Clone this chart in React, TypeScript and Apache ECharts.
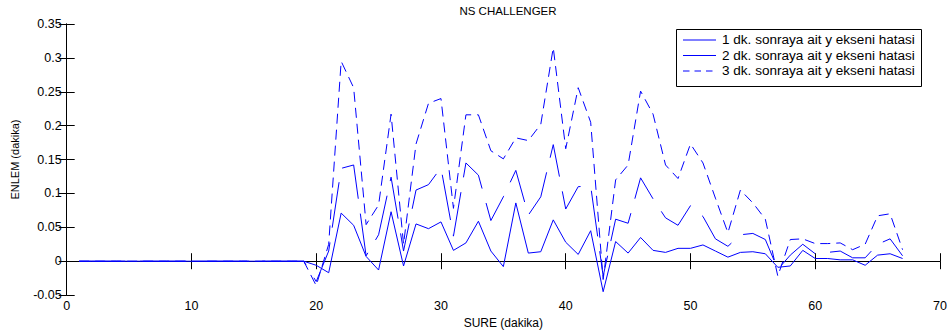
import React, { useEffect, useRef } from "react";
import * as echarts from "echarts";

const minutes: number[] = Array.from({ length: 67 }, (_, i) => i + 1);

const zeros19: number[] = [0, 0, 0, 0, 0, 0, 0, 0, 0, 0, 0, 0, 0, 0, 0, 0, 0, 0, 0];

const err1: number[] = zeros19.concat([
  -0.006, -0.017, 0.071, 0.053, 0.007, -0.013, 0.073, -0.007, 0.055, 0.048,
  0.058, 0.016, 0.027, 0.059, 0.015, -0.008, 0.086, 0.012, 0.014, 0.061,
  0.028, 0.010, 0.045, -0.045, 0.029, 0.012, 0.035, 0.016, 0.013, 0.019,
  0.019, 0.024, 0.015, 0.006, 0.013, 0.014, 0.011, -0.009, -0.007, 0.016,
  0.004, 0.004, 0.002, 0.002, -0.006, 0.009, 0.011, 0.004,
]);

const err2: number[] = zeros19.concat([
  -0.030, 0.015, 0.137, 0.142, 0.008, 0.039, 0.124, 0.015, 0.105, 0.113,
  0.138, 0.037, 0.145, 0.127, 0.060, 0.095, 0.134, 0.068, 0.095, 0.172,
  0.077, 0.110, 0.111, -0.022, 0.062, 0.056, 0.123, 0.092, 0.064, 0.053,
  0.082, 0.066, 0.033, 0.022, 0.039, 0.041, 0.032, -0.012, 0.009, 0.025,
  0.011, 0.013, 0.015, 0.005, 0.005, 0.025, 0.033, 0.008,
]);

const err3: number[] = zeros19.concat([
  -0.036, 0.025, 0.295, 0.256, 0.054, 0.083, 0.217, 0.025, 0.173, 0.233,
  0.240, 0.078, 0.216, 0.216, 0.163, 0.151, 0.182, 0.178, 0.202, 0.315,
  0.166, 0.256, 0.205, -0.027, 0.120, 0.142, 0.251, 0.217, 0.142, 0.122,
  0.173, 0.145, 0.093, 0.042, 0.105, 0.086, 0.062, -0.022, 0.032, 0.033,
  0.026, 0.026, 0.027, 0.017, 0.025, 0.067, 0.070, 0.017,
]);

const seriesNames: string[] = [
  "1 dk. sonraya ait y ekseni hatasi",
  "2 dk. sonraya ait y ekseni hatasi",
  "3 dk. sonraya ait y ekseni hatasi",
];

const FONT = "'Liberation Sans', Arial, Helvetica, sans-serif";
const BLUE = "#0000ff";

export default function App() {
  const ref = useRef<HTMLDivElement>(null);
  useEffect(() => {
    if (!ref.current) return;
    const chart = echarts.init(ref.current, null, { renderer: "svg" });
    const pairs = (vals: number[]) => minutes.map((m, i) => [m, vals[i]]);
    const tickFmt = (v: number) => String(parseFloat(v.toFixed(2)));
    const axisLine = { show: true, lineStyle: { color: "#000", width: 1 } };
    const tick = { show: true, inside: true, length: 8, lineStyle: { color: "#000" } };
    const label = { color: "#000", fontSize: 12.5, fontFamily: FONT };

    const legendRows = [40, 55.5, 71];
    const legendChildren: any[] = [
      {
        type: "rect",
        shape: { x: 676.5, y: 29.5, width: 245, height: 57 },
        style: { fill: "#fff", stroke: "#000", lineWidth: 1 },
      },
    ];
    seriesNames.forEach((name, i) => {
      const lineStyle: any = { stroke: BLUE, lineWidth: 1 };
      if (i === 2) lineStyle.lineDash = [6.5, 5];
      legendChildren.push({
        type: "line",
        shape: { x1: 683, y1: legendRows[i], x2: 716, y2: legendRows[i] },
        style: lineStyle,
      });
      legendChildren.push({
        type: "text",
        x: 722,
        y: legendRows[i],
        scaleX: 1.13,
        style: {
          text: name,
          fill: "#000",
          fontSize: 12,
          fontFamily: FONT,
          verticalAlign: "middle",
          align: "left",
        },
      });
    });

    chart.setOption({
      animation: false,
      backgroundColor: "#fff",
      title: {
        text: "NS CHALLENGER",
        left: 503,
        top: 0,
        textAlign: "center",
        textStyle: { fontSize: 11.5, fontWeight: "normal", color: "#000", fontFamily: FONT },
      },
      grid: { left: 66.7, right: 10, top: 24, bottom: 36.3 },
      graphic: [{ type: "group", z: 100, children: legendChildren }],
      xAxis: [
        {
          type: "value",
          min: 0,
          max: 70,
          interval: 10,
          name: "SURE (dakika)",
          nameLocation: "middle",
          nameGap: 16,
          nameTextStyle: { fontSize: 12, color: "#000", fontFamily: FONT },
          axisLine,
          axisTick: tick,
          axisLabel: { ...label, margin: 4 },
          splitLine: { show: false },
        },
        {
          type: "value",
          position: "top",
          min: 0,
          max: 70,
          interval: 10,
          axisLine,
          axisTick: tick,
          axisLabel: { show: false },
          splitLine: { show: false },
        },
      ],
      yAxis: [
        {
          type: "value",
          min: -0.05,
          max: 0.35,
          interval: 0.05,
          name: "ENLEM (dakika)",
          nameLocation: "middle",
          nameGap: 46,
          nameTextStyle: { fontSize: 11, color: "#000", fontFamily: FONT },
          axisLine,
          axisTick: tick,
          axisLabel: { ...label, margin: 5, formatter: tickFmt },
          splitLine: { show: false },
        },
        {
          type: "value",
          position: "right",
          min: -0.05,
          max: 0.35,
          interval: 0.05,
          axisLine,
          axisTick: tick,
          axisLabel: { show: false },
          splitLine: { show: false },
        },
      ],
      series: [
        {
          name: seriesNames[0],
          type: "line",
          data: pairs(err1),
          symbol: "none",
          showSymbol: false,
          itemStyle: { color: BLUE },
          lineStyle: { color: BLUE, width: 1 },
        },
        {
          name: seriesNames[1],
          type: "line",
          data: pairs(err2),
          symbol: "none",
          showSymbol: false,
          itemStyle: { color: BLUE },
          lineStyle: { color: BLUE, width: 1, type: [46, 15] },
        },
        {
          name: seriesNames[2],
          type: "line",
          data: pairs(err3),
          symbol: "none",
          showSymbol: false,
          itemStyle: { color: BLUE },
          lineStyle: { color: BLUE, width: 1, type: [10, 6] },
        },
      ],
    });
    return () => chart.dispose();
  }, []);
  return <div ref={ref} style={{ width: 950, height: 334, position: "absolute", left: 0, top: 0 }} />;
}
